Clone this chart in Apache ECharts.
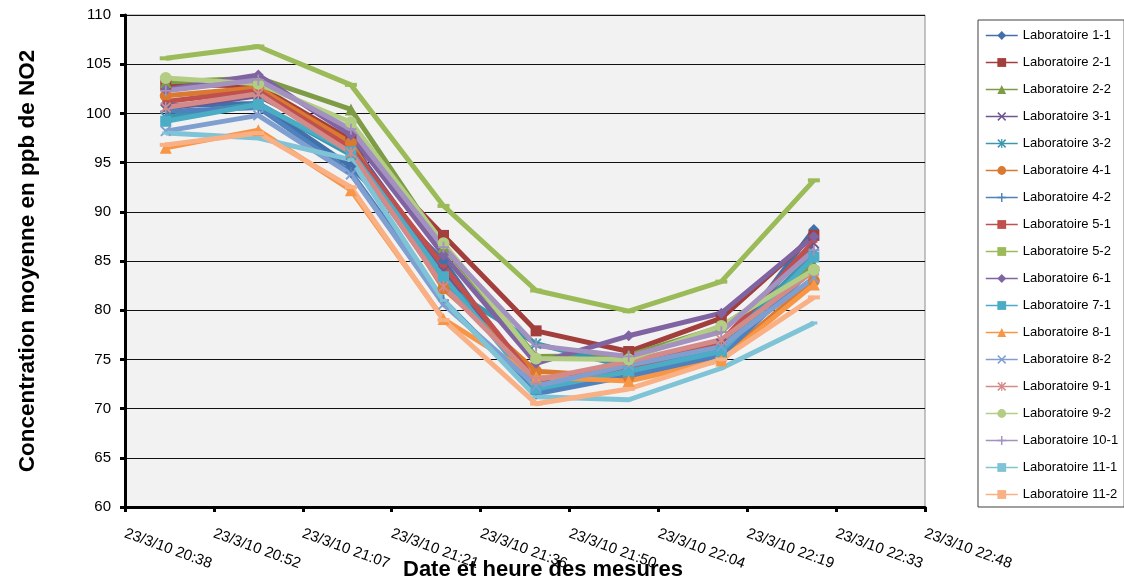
<html>
<head>
    <meta charset="utf-8">
    <title>NO2</title>
    <script src="https://cdn.jsdelivr.net/npm/echarts@6/dist/echarts.min.js"></script>
</head>
<body style="margin:0;background:#fff;">
    <div id="main" style="width: 1124px;height:586px;"></div>
    <script type="text/javascript">
        // heures des mesures (23/3/10)
        var times = ['20:45', '21:00', '21:15', '21:30', '21:45', '22:00', '22:15', '22:30'];

        var labNames = ['Laboratoire 1-1', 'Laboratoire 2-1', 'Laboratoire 2-2', 'Laboratoire 3-1',
            'Laboratoire 3-2', 'Laboratoire 4-1', 'Laboratoire 4-2', 'Laboratoire 5-1', 'Laboratoire 5-2',
            'Laboratoire 6-1', 'Laboratoire 7-1', 'Laboratoire 8-1', 'Laboratoire 8-2', 'Laboratoire 9-1',
            'Laboratoire 9-2', 'Laboratoire 10-1', 'Laboratoire 11-1', 'Laboratoire 11-2'];

        // concentrations moyennes en ppb
        var lab1_1 = [100.8, 101.0, 94.6, 85.0, 71.8, 73.5, 75.6, 88.2];
        var lab2_1 = [102.9, 102.8, 97.3, 87.6, 77.9, 75.8, 79.2, 87.6];
        var lab2_2 = [103.2, 103.6, 100.4, 86.4, 75.3, 75.4, 78.3, 84.6];
        var lab3_1 = [100.5, 101.8, 97.0, 84.0, 72.4, 74.5, 76.6, 86.8];
        var lab3_2 = [99.6, 101.0, 95.8, 82.6, 76.6, 74.2, 76.2, 85.8];
        var lab4_1 = [101.8, 102.6, 97.0, 82.2, 73.8, 73.2, 75.1, 83.0];
        var lab4_2 = [100.2, 100.6, 94.0, 81.0, 71.5, 73.3, 75.4, 84.3];
        var lab5_1 = [101.2, 102.3, 96.5, 84.5, 72.8, 74.0, 76.8, 87.0];
        var lab5_2 = [105.6, 106.8, 102.9, 90.6, 82.0, 79.9, 82.9, 93.2];
        var lab6_1 = [102.4, 103.9, 97.8, 85.6, 74.6, 77.4, 79.7, 87.5];
        var lab7_1 = [99.2, 100.9, 96.1, 83.4, 72.0, 73.8, 75.8, 85.4];
        var lab8_1 = [96.5, 98.3, 92.2, 79.1, 73.2, 72.8, 74.9, 82.6];
        var lab8_2 = [98.2, 99.8, 93.8, 80.6, 72.3, 74.4, 76.3, 83.3];
        var lab9_1 = [100.6, 102.0, 96.0, 82.4, 72.9, 74.8, 77.0, 84.0];
        var lab9_2 = [103.6, 103.0, 99.1, 86.8, 75.1, 75.0, 78.4, 84.1];
        var lab10_1 = [102.3, 103.4, 98.4, 86.4, 76.4, 75.3, 77.8, 86.1];
        var lab11_1 = [98.0, 97.5, 95.3, 81.0, 71.2, 70.9, 74.1, 78.7];
        var lab11_2 = [96.8, 98.0, 92.5, 79.0, 70.5, 72.0, 75.0, 81.3];

        var allData = [lab1_1, lab2_1, lab2_2, lab3_1, lab3_2, lab4_1, lab4_2, lab5_1, lab5_2,
            lab6_1, lab7_1, lab8_1, lab8_2, lab9_1, lab9_2, lab10_1, lab11_1, lab11_2];

        var colors = ['#4270AA', '#A23F3D', '#7E9C46', '#6E5592', '#3A97AE', '#DA7A30',
            '#4F81BD', '#C0504D', '#9BBB59', '#8064A2', '#4BACC6', '#F79646',
            '#7F9FD1', '#D38A88', '#B3CD84', '#A391C0', '#7FC3D7', '#F9B085'];

        var X_PATH = 'path://M0,1.2 L1.2,0 L5,3.8 L8.8,0 L10,1.2 L6.2,5 L10,8.8 L8.8,10 L5,6.2 L1.2,10 L0,8.8 L3.8,5 Z';
        var STAR_PATH = 'path://M0,1.2 L1.2,0 L5,3.8 L8.8,0 L10,1.2 L6.2,5 L10,8.8 L8.8,10 L5,6.2 L1.2,10 L0,8.8 L3.8,5 Z M4.3,0 L5.7,0 L5.7,10 L4.3,10 Z';
        var PLUS_PATH = 'path://M4.2,0 L5.8,0 L5.8,4.2 L10,4.2 L10,5.8 L5.8,5.8 L5.8,10 L4.2,10 L4.2,5.8 L0,5.8 L0,4.2 L4.2,4.2 Z';

        var symbols = ['diamond', 'rect', 'triangle', X_PATH, STAR_PATH, 'circle', PLUS_PATH, 'rect', 'rect',
            'diamond', 'rect', 'triangle', X_PATH, STAR_PATH, 'circle', PLUS_PATH, 'rect', 'rect'];
        var sizes = [11, 11, 12, 11, 11, 12, 11, [7, 3], [12, 4],
            11, 11, 12, 11, 11, 12, 11, [7, 3], [12, 4]];

        function toSec(t) {
            var p = t.split(':');
            return (+p[0]) * 3600 + (+p[1]) * 60;
        }

        function fmt(v) {
            var m = Math.floor(v / 60 + 1e-6);
            var h = Math.floor(m / 60);
            var mm = m % 60;
            return '23/3/10 ' + h + ':' + (mm < 10 ? '0' + mm : mm);
        }

        var myChart = echarts.init(document.getElementById('main'));

        var option = {
            animation: false,
            color: colors,
            grid: {
                left: 125, right: 199, top: 15, bottom: 79,
                outerBoundsMode: 'none',
                show: true, backgroundColor: '#f2f2f2', borderColor: '#8c8c8c', borderWidth: 1
            },
            legend: {
                orient: 'vertical',
                left: 978, top: 20,
                padding: [9, 6, 6, 7],
                itemGap: 14,
                itemWidth: 32, itemHeight: 11,
                borderColor: '#404040', borderWidth: 1,
                lineStyle: { width: 1.5 },
                textStyle: { fontFamily: 'Liberation Sans, Arial', fontSize: 13, color: '#000' },
                data: labNames
            },
            xAxis: {
                type: 'value',
                min: 74304, max: 82080, interval: 864,
                name: 'Date et heure des mesures',
                nameLocation: 'middle', nameGap: 52,
                nameMoveOverlap: false,
                nameTextStyle: { fontFamily: 'Liberation Sans, Arial', fontSize: 22, fontWeight: 'bold', color: '#000', padding: [0, 0, 0, 36] },
                axisLine: { onZero: false, lineStyle: { color: '#000', width: 3 } },
                axisTick: { length: 5, lineStyle: { color: '#000', width: 3 } },
                splitLine: { show: false },
                axisLabel: {
                    rotate: -20, margin: 26,
                    fontFamily: 'Liberation Sans, Arial', fontSize: 15, color: '#000',
                    formatter: fmt
                }
            },
            yAxis: {
                type: 'value',
                min: 60, max: 110, interval: 5,
                name: 'Concentration moyenne en ppb de NO2',
                nameLocation: 'middle', nameGap: 86,
                nameMoveOverlap: false,
                nameTextStyle: { fontFamily: 'Liberation Sans, Arial', fontSize: 22.5, fontWeight: 'bold', color: '#000' },
                axisLine: { show: true, lineStyle: { color: '#000', width: 3 } },
                axisTick: { show: true, length: 5, lineStyle: { color: '#000', width: 3 } },
                splitLine: { lineStyle: { color: '#111', width: 1 } },
                axisLabel: { margin: 14, fontFamily: 'Liberation Sans, Arial', fontSize: 15, color: '#000' }
            },
            series: allData.map(function (vals, i) {
                return {
                    name: labNames[i],
                    type: 'line',
                    data: vals.map(function (v, j) { return [toSec(times[j]), v]; }),
                    symbol: symbols[i],
                    symbolSize: sizes[i],
                    showAllSymbol: true,
                    lineStyle: { width: 5, color: colors[i] },
                    itemStyle: { color: colors[i] }
                };
            })
        };

        myChart.setOption(option);
    </script>
</body>
</html>
